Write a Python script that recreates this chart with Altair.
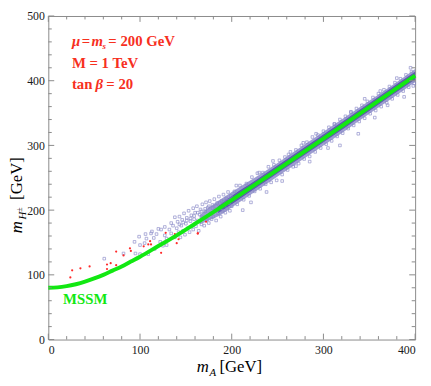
import altair as alt
import pandas as pd

# MSSM curve
mssm_x = [0, 10, 20, 30, 40, 50, 60, 70, 80, 90, 100, 120, 140, 160, 180, 200, 250, 300, 350, 400]
mssm_y = [80, 80.6, 82.5, 85.5, 89.5, 94.4, 100, 106.5, 113, 120.5, 128, 144.5, 161, 179, 197, 215.5, 262.5, 310.5, 359, 408]

# dense scan region (outer fringe and core)
band_x = [165, 175, 185, 200, 225, 250, 275, 300, 325, 350, 375, 400]
outer_lo = [178, 184, 190, 204, 228, 252, 276, 300, 324, 349, 373, 398]
outer_hi = [192, 204, 214, 228, 250, 273, 297, 321, 345, 369, 393, 418]
inner_x = [185, 200, 225, 250, 275, 300, 325, 350, 375, 400]
inner_lo = [195, 209, 233, 257, 281, 305, 329, 353, 378, 402]
inner_hi = [206, 222, 245, 269, 293, 317, 341, 365, 390, 414]

# sparse scan points (blue)
blue_x = [61, 82, 94, 95, 99, 100, 100, 105, 106, 107, 109, 112, 113, 115, 116, 118, 120, 122, 123, 125,
          127, 127, 129, 129, 132, 134, 134, 136, 138, 138,
          140, 141, 142, 143, 144, 145, 146, 147, 148, 149, 150, 151, 152, 153, 154, 155, 156, 157, 158, 158,
          159, 160, 161, 162, 163, 164, 165, 166, 167, 168, 169, 170, 171, 172, 173, 174, 175, 176, 177, 178,
          179, 180, 181, 182, 183, 184, 185, 186, 187, 188, 189, 190, 191, 192, 193, 194, 195, 196, 197, 198,
          199, 200, 205, 212, 221, 230, 238, 245, 255, 262, 270, 278, 285, 292, 305, 312, 318, 330, 338, 345,
          356, 362, 370, 380, 388, 395, 398,
          143, 147, 151, 155, 159, 163, 167, 171, 175, 179, 183, 187, 191, 195, 199,
          203, 206, 209, 213, 216, 219, 222, 225, 228, 231, 234, 237, 240, 243, 246, 249, 252, 255, 258, 261,
          264, 267, 270, 273, 276, 279, 282, 285, 288, 291, 294, 297, 300, 303, 306, 309, 312, 315, 318, 321,
          324, 327, 330, 333, 336, 339, 342, 345, 348, 351, 354, 357, 360, 363, 366, 369, 372, 375, 378, 381,
          384, 387, 390, 393, 396, 399]
blue_y = [125, 133, 151, 133, 159, 146, 132, 149, 163, 156, 132, 164, 167, 157, 140, 163, 171, 151, 170, 145,
          174, 161, 156, 146, 170, 180, 164, 176, 189, 158,
          172, 182, 166, 190, 158, 176, 185, 168, 195, 162, 179, 188, 172, 199, 166, 183, 192, 176, 203, 170,
          186, 196, 175, 206, 184, 168, 193, 201, 178, 209, 189, 176, 198, 212, 185, 204, 180, 214, 195, 186,
          208, 190, 217, 200, 184, 211, 195, 221, 203, 190, 214, 199, 224, 208, 196, 218, 202, 228, 211, 199,
          222, 206, 238, 200, 212, 258, 228, 276, 245, 286, 268, 304, 275, 318, 296, 333, 300, 352, 318, 372,
          343, 384, 362, 404, 375, 420, 392,
          178, 181, 184, 187, 191, 196, 198, 202, 206, 203, 206, 211, 213, 215, 216,
          229, 209, 238, 216, 241, 222, 251, 229, 257, 233, 258, 240, 267, 243, 270, 246, 277, 255, 282, 262,
          290, 267, 293, 272, 300, 279, 305, 283, 313, 290, 316, 296, 322, 302, 328, 307, 333, 314, 340, 319,
          345, 326, 351, 331, 357, 337, 362, 342, 368, 349, 374, 354, 380, 360, 386, 366, 391, 372, 397, 378,
          403, 384, 409, 390, 414, 396]

# points that fail the constraints (red)
red_x = [24, 26, 35, 45, 64, 64, 68, 74, 74, 82, 89, 90, 104, 109, 111, 112, 123, 128, 138, 140, 142, 163, 163, 172]
red_y = [96, 107, 110, 113, 116, 109, 118, 115, 136, 130, 141, 137, 144, 147, 152, 147, 134, 165, 163, 149, 155, 164, 164, 182]

x_ticks = [0, 100, 200, 300, 400]
y_ticks = [0, 100, 200, 300, 400, 500]
x_minor = [v for v in range(0, 401, 20) if v % 100]
y_minor = [v for v in range(0, 501, 20) if v % 100]

W, H = 373, 329
RED = "#f7301e"
GREEN = "#12e812"
SERIF = "Liberation Serif, Times New Roman, serif"

sx = alt.Scale(domain=[0, 400], nice=False, zero=False)
sy = alt.Scale(domain=[0, 500], nice=False, zero=False)
ax_x = alt.Axis(values=x_ticks, title=None, labelPadding=5, format="d")
ax_y = alt.Axis(values=y_ticks, title=None, labelPadding=4, format="d")


def X(f):
    return alt.X(f, type="quantitative", scale=sx, axis=ax_x)


def Y(f):
    return alt.Y(f, type="quantitative", scale=sy, axis=ax_y)


band_df = pd.DataFrame({"x": band_x, "lo": outer_lo, "hi": outer_hi})
inner_df = pd.DataFrame({"x": inner_x, "lo": inner_lo, "hi": inner_hi})
blue_df = pd.DataFrame({"x": blue_x, "y": blue_y})
red_df = pd.DataFrame({"x": red_x, "y": red_y})
mssm_df = pd.DataFrame({"x": mssm_x, "y": mssm_y})

outer = alt.Chart(band_df).mark_area(color="#8484c6", opacity=0.8, interpolate="monotone").encode(
    x=X("x"), y=Y("lo"), y2="hi")
inner = alt.Chart(inner_df).mark_area(color="#5050a6", opacity=0.85, interpolate="monotone").encode(
    x=X("x"), y=Y("lo"), y2="hi")
blue = alt.Chart(blue_df).mark_point(shape="square", size=7, filled=False, strokeWidth=0.7,
                                     color="#8686c6", opacity=0.9).encode(x=X("x"), y=Y("y"))
red = alt.Chart(red_df).mark_circle(size=5, color="#ff2a2a", opacity=1).encode(x=X("x"), y=Y("y"))
line = alt.Chart(mssm_df).mark_line(color=GREEN, strokeWidth=4, interpolate="monotone").encode(
    x=X("x"), y=Y("y"))


def txt(s, px, py, color="black", size=15, weight="bold", style="normal", angle=0):
    return alt.Chart(pd.DataFrame({"t": [s]})).mark_text(
        align="left", baseline="alphabetic", font=SERIF, fontSize=size, fontWeight=weight,
        fontStyle=style, color=color, angle=angle).encode(
        x=alt.value(px), y=alt.value(py), text="t:N")


TOP = 5  # shift of plot area relative to the reference
texts = [
    txt("μ", 24, 36 - TOP, RED, style="italic"),
    txt("=", 34, 36 - TOP, RED),
    txt("m", 44, 36 - TOP, RED, style="italic"),
    txt("s", 55, 39 - TOP, RED, size=9, style="italic"),
    txt("= 200 GeV", 61, 36 - TOP, RED),
    txt("M = 1 TeV", 24, 58 - TOP, RED),
    txt("tan", 24, 79 - TOP, RED),
    txt("β", 48, 79 - TOP, RED, style="italic"),
    txt("= 20", 59, 79 - TOP, RED),
    txt("MSSM", 15, 298 - TOP, GREEN),
    # x-axis title
    txt("m", 151, 367 - TOP, size=17, weight="normal", style="italic"),
    txt("A", 164, 371 - TOP, size=11, weight="normal", style="italic"),
    txt("[GeV]", 174, 367 - TOP, size=17, weight="normal"),
    # y-axis title (rotated)
    txt("m", -27, 226 - TOP, size=17, weight="normal", style="italic", angle=270),
    txt("H", -23, 212 - TOP, size=11, weight="normal", style="italic", angle=270),
    txt("±", -27, 204 - TOP, size=8, weight="normal", angle=270),
    txt("[GeV]", -27, 192 - TOP, size=17, weight="normal", angle=270),
]

TICK = "#8a8a8a"


def ticks(values, axis, length):
    df = pd.DataFrame({"v": values})
    c = alt.Chart(df).mark_rule(color=TICK, strokeWidth=1)
    if axis == "bottom":
        return c.encode(x=X("v"), y=alt.value(H), y2=alt.value(H - length))
    if axis == "top":
        return c.encode(x=X("v"), y=alt.value(0), y2=alt.value(length))
    if axis == "left":
        return c.encode(y=Y("v"), x=alt.value(0), x2=alt.value(length))
    return c.encode(y=Y("v"), x=alt.value(W), x2=alt.value(W - length))


tick_layers = []
for side in ["bottom", "top"]:
    tick_layers.append(ticks(x_ticks, side, 6))
    tick_layers.append(ticks(x_minor, side, 3.5))
for side in ["left", "right"]:
    tick_layers.append(ticks(y_ticks, side, 6))
    tick_layers.append(ticks(y_minor, side, 3.5))

chart = alt.layer(outer, inner, blue, red, line, *tick_layers, *texts).properties(
    width=W, height=H,
    autosize=alt.AutoSizeParams(type="none"),
    padding={"left": 41, "top": TOP, "right": 8, "bottom": 38},
    background="white",
).configure_view(stroke=TICK, strokeWidth=1).configure_axis(
    grid=False, ticks=False, domain=False, labelFont=SERIF, labelFontSize=12, labelColor="#1a1a1a"
)

chart.save("out.html", embed_options={"renderer": "svg", "actions": False})
